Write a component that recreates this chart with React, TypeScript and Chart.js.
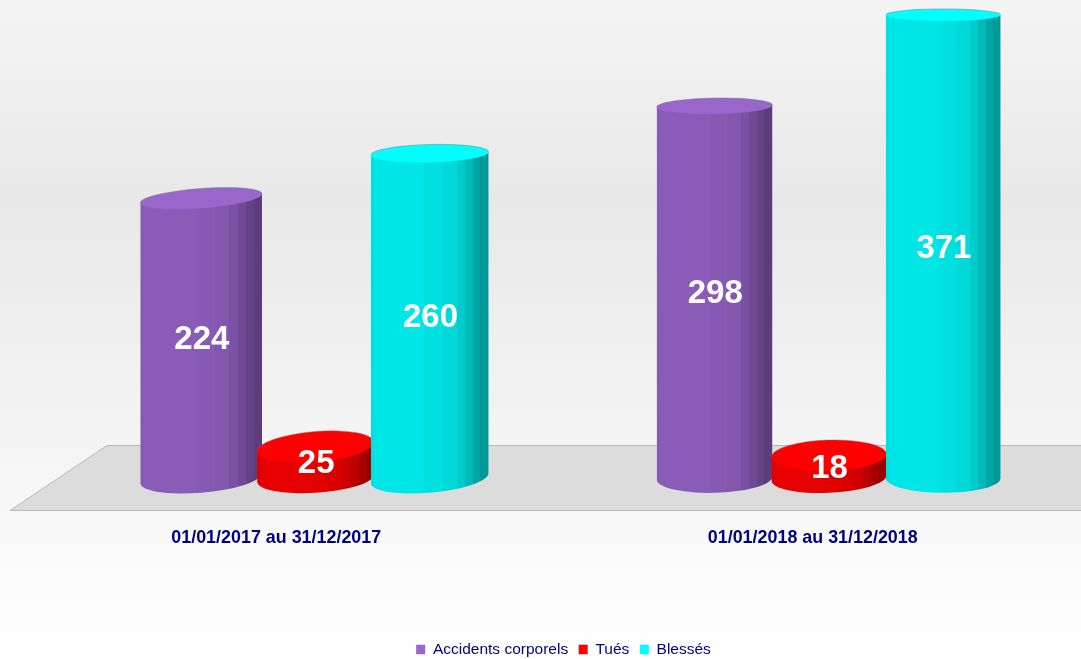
import React, { useEffect, useRef } from "react";
import { Chart, registerables } from "chart.js";

Chart.register(...registerables);

const categories = ["01/01/2017 au 31/12/2017", "01/01/2018 au 31/12/2018"];
const seriesNames = ["Accidents corporels", "Tués", "Blessés"];
const accidents = [224, 298];
const tues = [25, 18];
const blesses = [260, 371];
const seriesColors = [[153, 102, 204], [255, 0, 0], [0, 255, 255]];

// look of the pseudo-3D scene
const FLOOR_DEPTH = 65;
const FLOOR_INSET = 97;
const MID_DEPTH_SCALE = 0.957;
const MID_DEPTH_SHIFT = 51.1;
const WIDTH_SCALE = [[1.065, 1.013], [1.021, 1.005], [1.03, 1.005]];
const TILT_TOP = [[9, 2], [9, 3], [3, 0]];
const TILT_BOTTOM = [[10, 3], [7, 5], [10, 0]];
const BOTTOM_SEMI = 14.8;
const BANDS: [number, number][] = [
  [0.03, 0.88], [0.46, 0.9], [0.61, 0.88], [0.73, 0.85], [0.8, 0.8], [0.87, 0.73], [0.93, 0.65], [1, 0.6],
];

function shade(c: number[], f: number) {
  return `rgb(${Math.round(c[0] * f)},${Math.round(c[1] * f)},${Math.round(c[2] * f)})`;
}
const semiMinor = (y: number) => 6 + (y - 15) * 0.0215;

const scene = {
  id: "scene",
  afterLayout(chart: any) {
    chart.legend.left += 19;
    chart.legend.right += 19;
  },
  beforeDraw(chart: any) {
    const { ctx, width, height, chartArea } = chart;
    const g = ctx.createLinearGradient(0, 0, 0, height);
    g.addColorStop(0, "#f4f4f4");
    g.addColorStop(0.3, "#e8e8e8");
    g.addColorStop(1, "#ffffff");
    ctx.save();
    ctx.fillStyle = g;
    ctx.fillRect(0, 0, width, height);
    const fl = chartArea.left + 2;
    const fb = chartArea.bottom;
    ctx.beginPath();
    ctx.moveTo(fl, fb);
    ctx.lineTo(fl + FLOOR_INSET, fb - FLOOR_DEPTH);
    ctx.lineTo(width + 2, fb - FLOOR_DEPTH);
    ctx.lineTo(width + 2, fb);
    ctx.closePath();
    ctx.fillStyle = "#dcdcdc";
    ctx.fill();
    ctx.strokeStyle = "#b8b8b8";
    ctx.lineWidth = 1;
    ctx.stroke();
    ctx.restore();
  },
  beforeDatasetDraw() {
    return false;
  },
  afterDatasetsDraw(chart: any) {
    const { ctx } = chart;
    const labels: { t: string; x: number; y: number }[] = [];
    chart.data.datasets.forEach((ds: any, di: number) => {
      const meta = chart.getDatasetMeta(di);
      meta.data.forEach((el: any, i: number) => {
        const cx = el.x * MID_DEPTH_SCALE + MID_DEPTH_SHIFT;
        const w = el.width * MID_DEPTH_SCALE * WIDTH_SCALE[di][i];
        const top = el.y - FLOOR_DEPTH / 2;
        const bot = el.base - FLOOR_DEPTH / 2;
        const col = seriesColors[di];
        const sT = TILT_TOP[di][i] / w;
        const sB = TILT_BOTTOM[di][i] / w;
        const l = cx - w / 2;
        const grad = ctx.createLinearGradient(l, 0, l + w, 0);
        let from = 0;
        BANDS.forEach(([to, f]) => {
          grad.addColorStop(from, shade(col, f));
          grad.addColorStop(to, shade(col, f));
          from = to;
        });
        ctx.save();
        ctx.beginPath();
        ctx.rect(l, top - 30, w, bot - top + 60);
        ctx.clip();
        ctx.beginPath();
        ctx.save();
        ctx.transform(1, -sB, 0, 1, cx, bot);
        ctx.ellipse(0, 0, w / 2, BOTTOM_SEMI, 0, Math.PI, 0, true);
        ctx.restore();
        ctx.lineTo(cx + w / 2, top - sT * (w / 2));
        ctx.lineTo(cx - w / 2, top + sT * (w / 2));
        ctx.closePath();
        ctx.fillStyle = grad;
        ctx.fill();
        ctx.restore();
        ctx.save();
        ctx.transform(1, -sT, 0, 1, cx, top);
        ctx.beginPath();
        ctx.ellipse(0, 0, w / 2, semiMinor(top), 0, 0, Math.PI * 2);
        ctx.restore();
        ctx.fillStyle = shade(col, 1);
        ctx.fill();
        ctx.save();
        ctx.transform(1, -sT, 0, 1, cx, top);
        ctx.beginPath();
        ctx.ellipse(0, 0, w / 2, semiMinor(top), 0, Math.PI, 0);
        ctx.restore();
        ctx.strokeStyle = "rgba(110,110,110,0.55)";
        ctx.lineWidth = 0.8;
        ctx.stroke();
        labels.push({ t: String(ds.data[i]), x: cx + 0.7, y: (top + bot) / 2 + 2 });
      });
    });
    ctx.save();
    ctx.fillStyle = "#ffffff";
    ctx.font = 'bold 33px "Liberation Sans"';
    ctx.textAlign = "center";
    ctx.textBaseline = "middle";
    labels.forEach((p) => ctx.fillText(p.t, p.x, p.y));
    ctx.restore();
  },
};

export default function App() {
  const ref = useRef<HTMLCanvasElement>(null);
  useEffect(() => {
    document.body.style.margin = "0";
    const chart = new Chart(ref.current as HTMLCanvasElement, {
      type: "bar",
      data: {
        labels: categories,
        datasets: [accidents, tues, blesses].map((data, i) => ({
          label: seriesNames[i],
          data,
          backgroundColor: shade(seriesColors[i], 1),
          borderWidth: 0,
          barPercentage: 1,
          categoryPercentage: 0.668,
        })),
      },
      options: {
        responsive: false,
        animation: false,
        events: [],
        layout: { padding: { left: 8, right: 0, top: 11.2, bottom: -8.25 } },
        scales: {
          x: {
            grid: { display: false },
            border: { display: false },
            ticks: {
              color: "#000080",
              padding: 9,
              maxRotation: 0,
              font: { family: "Liberation Sans", size: 17.9, weight: "bold" },
            },
            afterFit: (s: any) => {
              s.height = 120.75;
            },
          },
          y: { display: false, min: 0, max: 400 },
        },
        plugins: {
          tooltip: { enabled: false },
          legend: {
            position: "bottom",
            labels: {
              color: "#000080",
              boxWidth: 9,
              boxHeight: 9.5,
              padding: 10.5,
              font: { family: "Liberation Sans", size: 15.5 },
            },
          },
        },
      } as any,
      plugins: [scene],
    });
    return () => chart.destroy();
  }, []);
  return (
    <div style={{ position: "absolute", left: 0, top: 0, width: 1081, height: 659, overflow: "hidden" }}>
      <canvas ref={ref} width={1081} height={659} style={{ display: "block" }} />
    </div>
  );
}
